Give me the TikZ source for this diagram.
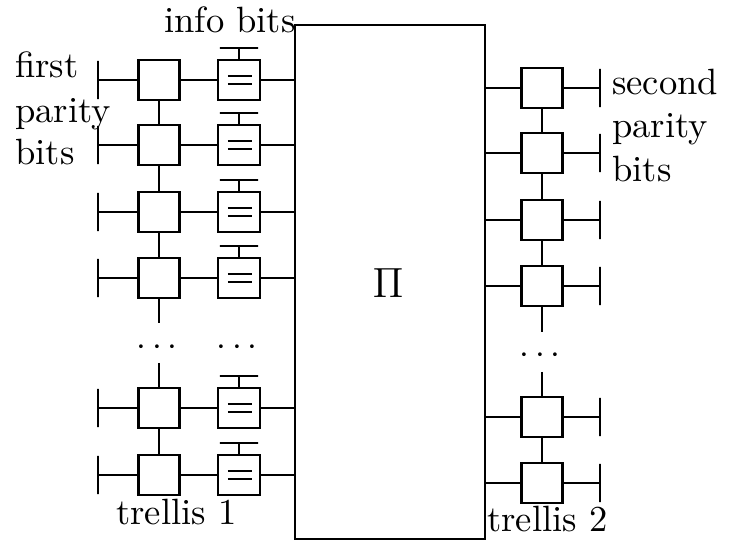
\documentclass[tikz,border=0pt]{standalone}
\usetikzlibrary{calc}
\begin{document}
\begin{tikzpicture}[x=0.01cm,y=-0.01cm,
  line width=0.75pt,
  every node/.style={font=\fontsize{10.4}{12.5}\selectfont},
  trel/.style={draw,rectangle,minimum width=0.41cm,minimum height=0.40cm,inner sep=0pt},
  eqbox/.style={draw,rectangle,minimum width=0.42cm,minimum height=0.40cm,inner sep=0pt,
    path picture={\draw[line width=0.5pt] ([xshift=-0.11cm,yshift=0.037cm]path picture bounding box.center) -- ++(0.24cm,0);
                  \draw[line width=0.5pt] ([xshift=-0.11cm,yshift=-0.037cm]path picture bounding box.center) -- ++(0.24cm,0);}},
  vtick/.style={draw,rectangle,minimum width=0pt,minimum height=0.38cm,inner sep=0pt},
  hbar/.style={draw,rectangle,minimum height=0pt,minimum width=0.38cm,inner sep=0pt},
  lbl/.style={anchor=base west,inner sep=0pt},
  dotsnode/.style={inner sep=0pt}]
\useasboundingbox (0,0) rectangle (729,543);

% interleaver
\node[draw,rectangle,minimum width=1.90cm,minimum height=5.14cm,inner sep=0pt] (P) at (390,282) {};
\node (pi) at (388,283) {\fontsize{12}{14}\selectfont$\Pi$};

% trellis 1: code boxes, info-bit boxes, parity ticks
\foreach \i/\y in {1/80,2/145,3/212,4/278,5/408,6/475}{
  \node[trel] (a\i) at (159,\y) {};
  \node[eqbox] (e\i) at (239,\y) {};
  \node[vtick] (l\i) at (98,\y) {};
  \node[hbar] (h\i) at (239,\y-32) {};
  \draw (l\i) -- (a\i.west);
  \draw (a\i.east) -- (e\i.west);
  \draw (e\i.north) -- (h\i);
  \draw (e\i.east) -- (e\i.east -| P.west);
}
\draw (a1) -- (a2);
\draw (a2) -- (a3);
\draw (a3) -- (a4);
\draw (a5) -- (a6);
\coordinate (a4d) at (159,323);
\coordinate (a5u) at (159,363);
\draw (a4.south) -- (a4d);
\draw (a5u) -- (a5.north);
\node[dotsnode] (d1) at (157,348) {$\cdots$};
\node[dotsnode] (d2) at (237,348) {$\cdots$};

% trellis 2
\foreach \i/\y in {1/88,2/153,3/220,4/286,5/417,6/483}{
  \node[trel] (b\i) at (542,\y) {};
  \node[vtick] (r\i) at (600,\y) {};
  \draw (P.east |- b\i) -- (b\i.west);
  \draw (b\i.east) -- (r\i);
}
\draw (b1) -- (b2);
\draw (b2) -- (b3);
\draw (b3) -- (b4);
\draw (b5) -- (b6);
\coordinate (b4d) at (542,332);
\coordinate (b5u) at (542,372);
\draw (b4.south) -- (b4d);
\draw (b5u) -- (b5.north);
\node[dotsnode] (d3) at (540,356) {$\cdots$};

% labels
\node[lbl] (t1) at (163,33) {info bits};
\node[lbl] (t2) at (14,78) {first};
\node[lbl] (t3) at (14,123) {parity};
\node[lbl] (t4) at (14,165) {bits};
\node[lbl] (t5) at (611,95) {second};
\node[lbl] (t6) at (611,138) {parity};
\node[lbl] (t7) at (611,182) {bits};
\node[lbl] (t8) at (115,525) {trellis 1};
\node[lbl] (t9) at (486,532) {trellis 2};
\end{tikzpicture}
\end{document}
